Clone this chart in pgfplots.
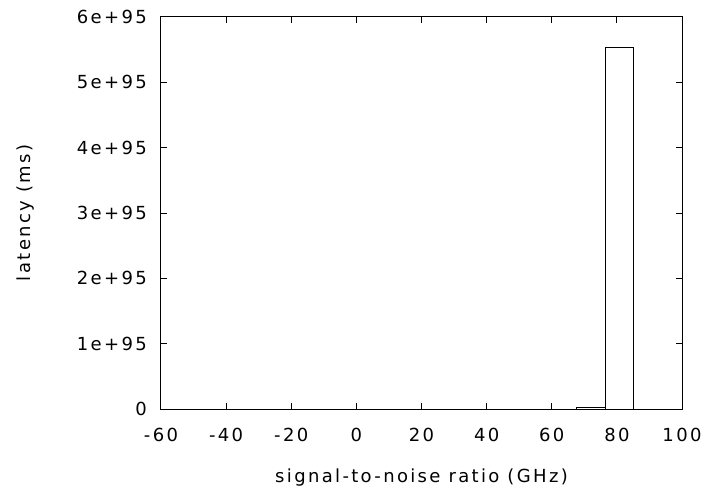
\documentclass[border=0pt]{standalone}
\usepackage{pgfplots}
\pgfplotsset{compat=1.18}
\usepackage{fontspec}
\setmainfont{DejaVu Sans}[LetterSpace=13]
\usetikzlibrary{calc}
\begin{document}
\fontsize{18bp}{21bp}\selectfont
\begin{tikzpicture}
\begin{axis}[
  name=ax,
  scale only axis,
  width=521bp, height=392bp,
  xmin=-60, xmax=100, ymin=0, ymax=6,
  xtick={-60,-40,...,100},
  ytick={0,1,2,3,4,5,6},
  yticklabels={0,1e+95,2e+95,3e+95,4e+95,5e+95,6e+95},
  tick align=inside,
  major tick length=6bp,
  axis line style={line width=1bp},
  every tick/.style={line width=1bp, black},
  /pgf/number format/assume math mode=true,
  xticklabel style={font=\fontsize{18bp}{21bp}\selectfont, yshift=-13bp},
  yticklabel style={font=\fontsize{18bp}{21bp}\selectfont, xshift=-8bp},
  xlabel={signal-to-noise ratio (GHz)},
  ylabel={latency (ms)},
  label style={font=\fontsize{18bp}{21bp}\selectfont},
  xlabel style={at={(rel axis cs:0.5,0)}, anchor=center, yshift=-69bp},
  ylabel style={at={(rel axis cs:0,0.5)}, anchor=center, yshift=135bp},
]
\addplot[ybar interval, fill=white, draw=black, line width=1bp]
  coordinates {(67.5,0.03) (76.4,5.54) (85.0,0)};
\end{axis}
\pgfresetboundingbox
\useasboundingbox ($(ax.south west)+(-161bp,-82bp)$) rectangle ($(ax.north east)+(22bp,17bp)$);
\end{tikzpicture}
\end{document}
